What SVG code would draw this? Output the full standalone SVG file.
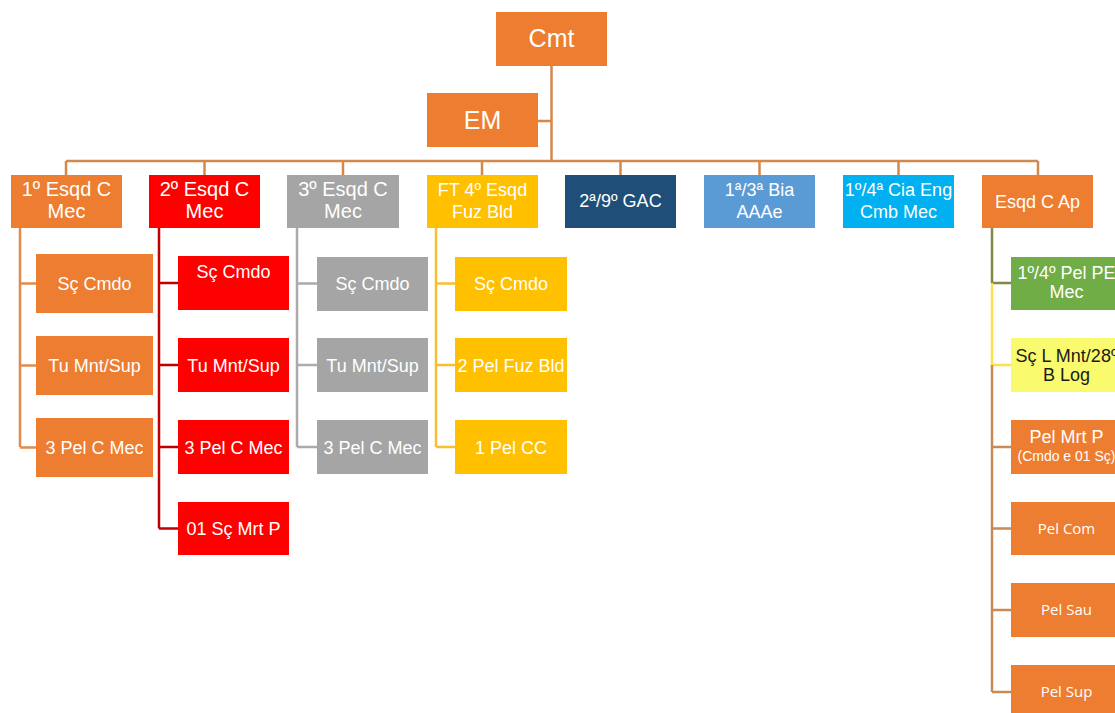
<svg xmlns="http://www.w3.org/2000/svg" width="1115" height="713" viewBox="0 0 1115 713">
<style>
text{font-family:"Liberation Sans",Arial,sans-serif;fill:#FFFFFF;text-anchor:middle}
.t1{font-size:25px}
.t2{font-size:20px}
.t3{font-size:18px}
.os{font-family:"Open Sans","Liberation Sans",sans-serif;font-size:15px}
.or{fill:#ED7D31}.rd{fill:#FF0000}.gy{fill:#A5A5A5}.yl{fill:#FFC000}
.db{fill:#1F4E79}.lb{fill:#5B9BD5}.cy{fill:#00B0F0}.gn{fill:#70AD47}.ly{fill:#FAFA6E}
#connectors path{fill:none;stroke-width:2.5}
.cm{stroke:#D4894C}.c1{stroke:#E08A4E}.c2{stroke:#C00000}.c3{stroke:#ABABAB}.c4{stroke:#F8C030}
.cg{stroke:#7F8A45}.cyl{stroke:#FFE04A}.cb{stroke:#C98A55}
</style>
<rect width="1115" height="713" fill="#FFFFFF"/>
<g id="connectors">
<path class="cm" d="M551.5 66V161M538 121H551.5M66 161H1038M66 161V175M204.5 161V175M343 161V175M482 161V175M620.5 161V175M759.5 161V175M898.5 161V175M1038 161V175"/>
<path class="c1" d="M20 228V447M20 283.5H36M20 365.5H36M20 447.5H36"/>
<path class="c2" d="M159 228V528.5M159 283H178M159 365H178M159 447H178M159 528.5H178"/>
<path class="c3" d="M297 228V447M297 283.5H317M297 365H317M297 447H317"/>
<path class="c4" d="M436 228V447M436 283.5H455M436 365H455M436 447H455"/>
<path class="cg" d="M992 228V283M992 283H1011"/>
<path class="cyl" d="M992 283V365M992 365H1011"/>
<path class="cb" d="M992 365V692M992 447H1011M992 528.5H1011M992 610H1011M992 692H1011"/>
</g>
<g id="cmt"><rect class="or" x="496" y="12" width="111" height="54"/><text class="t1" x="551.5" y="47">Cmt</text></g>
<g id="em"><rect class="or" x="427" y="93" width="111" height="54"/><text class="t1" x="482.5" y="129">EM</text></g>
<g id="esqd1"><rect class="or" x="11" y="175" width="111" height="53"/><text class="t2" x="66.5" y="196">1º Esqd C</text><text class="t2" x="66.5" y="218">Mec</text></g>
<g id="esqd2"><rect class="rd" x="149" y="175" width="111" height="53"/><text class="t2" x="204.5" y="196">2º Esqd C</text><text class="t2" x="204.5" y="218">Mec</text></g>
<g id="esqd3"><rect class="gy" x="287" y="175" width="112" height="53"/><text class="t2" x="343" y="196">3º Esqd C</text><text class="t2" x="343" y="218">Mec</text></g>
<g id="ft4"><rect class="yl" x="427" y="175" width="111" height="53"/><text class="t3" x="482.5" y="196">FT 4º Esqd</text><text class="t3" x="482.5" y="218">Fuz Bld</text></g>
<g id="gac"><rect class="db" x="565" y="175" width="111" height="53"/><text class="t3" x="620.5" y="207">2ª/9º GAC</text></g>
<g id="bia"><rect class="lb" x="704" y="175" width="111" height="53"/><text class="t3" x="759.5" y="196">1ª/3ª Bia</text><text class="t3" x="759.5" y="218">AAAe</text></g>
<g id="cia"><rect class="cy" x="843" y="175" width="111" height="53"/><text class="t3" x="898.5" y="196">1º/4ª Cia Eng</text><text class="t3" x="898.5" y="218">Cmb Mec</text></g>
<g id="esqdap"><rect class="or" x="982" y="175" width="111" height="53"/><text class="t3" x="1037.5" y="208">Esqd C Ap</text></g>
<g id="c1a"><rect class="or" x="36" y="254" width="117" height="59"/><text class="t3" x="94.5" y="290">Sç Cmdo</text></g>
<g id="c1b"><rect class="or" x="36" y="336" width="117" height="59"/><text class="t3" x="94.5" y="372">Tu Mnt/Sup</text></g>
<g id="c1c"><rect class="or" x="36" y="418" width="117" height="59"/><text class="t3" x="94.5" y="454">3 Pel C Mec</text></g>
<g id="c2a"><rect class="rd" x="178" y="256" width="111" height="54"/><text class="t3" x="233.5" y="278">Sç Cmdo</text></g>
<g id="c2b"><rect class="rd" x="178" y="338" width="111" height="54"/><text class="t3" x="233.5" y="372">Tu Mnt/Sup</text></g>
<g id="c2c"><rect class="rd" x="178" y="420" width="111" height="54"/><text class="t3" x="233.5" y="454">3 Pel C Mec</text></g>
<g id="c2d"><rect class="rd" x="178" y="502" width="111" height="53"/><text class="t3" x="233.5" y="535">01 Sç Mrt P</text></g>
<g id="c3a"><rect class="gy" x="317" y="257" width="111" height="54"/><text class="t3" x="372.5" y="290">Sç Cmdo</text></g>
<g id="c3b"><rect class="gy" x="317" y="338" width="111" height="54"/><text class="t3" x="372.5" y="372">Tu Mnt/Sup</text></g>
<g id="c3c"><rect class="gy" x="317" y="420" width="111" height="54"/><text class="t3" x="372.5" y="454">3 Pel C Mec</text></g>
<g id="c4a"><rect class="yl" x="455" y="257" width="112" height="54"/><text class="t3" x="511" y="290">Sç Cmdo</text></g>
<g id="c4b"><rect class="yl" x="455" y="338" width="112" height="54"/><text class="t3" x="511" y="372">2 Pel Fuz Bld</text></g>
<g id="c4c"><rect class="yl" x="455" y="420" width="112" height="54"/><text class="t3" x="511" y="454">1 Pel CC</text></g>
<g id="c8a"><rect class="gn" x="1011" y="257" width="111" height="53"/><text class="t3" x="1066.5" y="279">1º/4º Pel PE</text><text class="t3" x="1066.5" y="298">Mec</text></g>
<g id="c8b"><rect class="ly" x="1011" y="338" width="111" height="54"/><text class="t3" x="1066.5" y="362" style="fill:#1A1A1A">Sç L Mnt/28º</text><text class="t3" x="1066.5" y="381" style="fill:#1A1A1A">B Log</text></g>
<g id="c8c"><rect class="or" x="1011" y="420" width="111" height="54"/><text class="t3" x="1066.5" y="443">Pel Mrt P</text><text x="1066.5" y="461" style="font-size:14px">(Cmdo e 01 Sç)</text></g>
<g id="c8d"><rect class="or" x="1011" y="502" width="111" height="53"/><text class="os" x="1066.5" y="534">Pel Com</text></g>
<g id="c8e"><rect class="or" x="1011" y="583" width="111" height="54"/><text class="os" x="1066.5" y="615">Pel Sau</text></g>
<g id="c8f"><rect class="or" x="1011" y="665" width="111" height="54"/><text class="os" x="1066.5" y="697">Pel Sup</text></g>
</svg>
